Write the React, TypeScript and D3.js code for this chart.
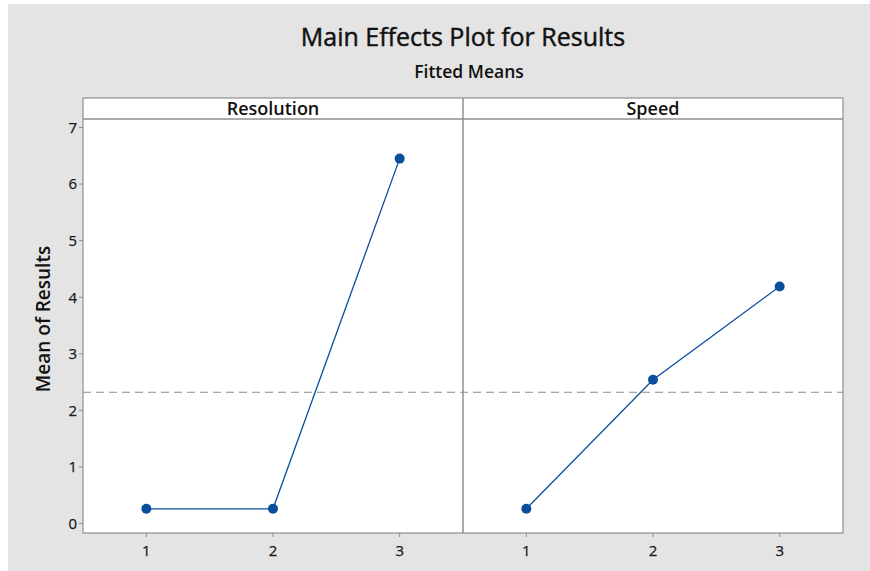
import React from "react";
import * as d3 from "d3";

const factors = ["Resolution", "Speed"];
const levels = [1, 2, 3];
const resolutionMeans = [0.26, 0.26, 6.45];
const speedMeans = [0.26, 2.54, 4.19];
const yTicks = [0, 1, 2, 3, 4, 5, 6, 7];
const grandMean = 2.32;

const W = 870;
const H = 571;
const frame = { left: 83, top: 98, right: 843, bottom: 533 };
const stripBottom = 119;
const FONT = "'Open Sans', 'Noto Sans', sans-serif";
const BLUE = "#0a4f9c";
const FRAME = "#8f8f8f";

export default function App() {
  const seriesList = [resolutionMeans, speedMeans];
  const panelW = (frame.right - frame.left) / factors.length;
  const y = d3.scaleLinear().domain([0, 7]).range([523.5, 127.5]);
  const panels = factors.map((name, i) => {
    const x0 = frame.left + i * panelW;
    const x = d3.scaleLinear().domain([0.5, 3.5]).range([x0, x0 + panelW]);
    return { name, x, x0, values: seriesList[i] };
  });

  return (
    <svg
      width={W}
      height={H}
      style={{ position: "absolute", left: 0, top: 0 }}
      fontFamily={FONT}
    >
      <rect x={0} y={0} width={W} height={H} fill="#ffffff" />
      <rect x={8} y={4} width={W - 8} height={H - 4} fill="#e4e4e4" />

      <text
        x={463}
        y={46}
        textAnchor="middle"
        fontSize={25}
        fill="#111"
        stroke="#111"
        strokeWidth={0.45}
      >
        Main Effects Plot for Results
      </text>
      <text x={469} y={78} textAnchor="middle" fontSize={17.5} fontWeight={600} fill="#111">
        Fitted Means
      </text>

      <rect
        x={frame.left}
        y={frame.top}
        width={frame.right - frame.left}
        height={frame.bottom - frame.top}
        fill="#ffffff"
        stroke={FRAME}
        strokeWidth={1.2}
      />
      <line x1={frame.left} x2={frame.right} y1={stripBottom} y2={stripBottom} stroke={FRAME} strokeWidth={1.5} />

      {/* y axis */}
      {yTicks.map((t) => (
        <g key={t}>
          <line x1={frame.left - 4} x2={frame.left} y1={y(t)} y2={y(t)} stroke={FRAME} />
          <text
            x={frame.left - 6}
            y={y(t)}
            dy="0.36em"
            textAnchor="end"
            fontSize={15}
            fill="#1a1a1a"
            stroke="#1a1a1a"
            strokeWidth={0.25}
          >
            {t}
          </text>
        </g>
      ))}
      <text
        transform={`translate(50,${319}) rotate(-90)`}
        textAnchor="middle"
        fontSize={19}
        fontWeight={600}
        fill="#111"
      >
        Mean of Results
      </text>

      {/* grand mean reference */}
      <line
        x1={frame.left}
        x2={frame.right}
        y1={y(grandMean)}
        y2={y(grandMean)}
        stroke="#8a8a8a"
        strokeWidth={1.2}
        strokeDasharray="8,5"
      />

      {panels.map((p, i) => {
        const line = d3
          .line<number>()
          .x((_, j) => p.x(levels[j]))
          .y((v) => y(v));
        return (
          <g key={p.name}>
            {i > 0 && (
              <line x1={p.x0} x2={p.x0} y1={frame.top} y2={frame.bottom} stroke={FRAME} strokeWidth={1.5} />
            )}
            <text
              x={p.x0 + panelW / 2}
              y={115}
              textAnchor="middle"
              fontSize={18}
              fontWeight={600}
              fill="#111"
            >
              {p.name}
            </text>
            {levels.map((l) => (
              <g key={l}>
                <line x1={p.x(l)} x2={p.x(l)} y1={frame.bottom} y2={frame.bottom + 4} stroke={FRAME} />
                <text
                  x={p.x(l)}
                  y={556}
                  textAnchor="middle"
                  fontSize={15}
                  fill="#1a1a1a"
                  stroke="#1a1a1a"
                  strokeWidth={0.25}
                >
                  {l}
                </text>
              </g>
            ))}
            <path d={line(p.values) || ""} fill="none" stroke={BLUE} strokeWidth={1.3} />
            {p.values.map((v, j) => (
              <circle key={j} cx={p.x(levels[j])} cy={y(v)} r={5} fill={BLUE} />
            ))}
          </g>
        );
      })}
    </svg>
  );
}
